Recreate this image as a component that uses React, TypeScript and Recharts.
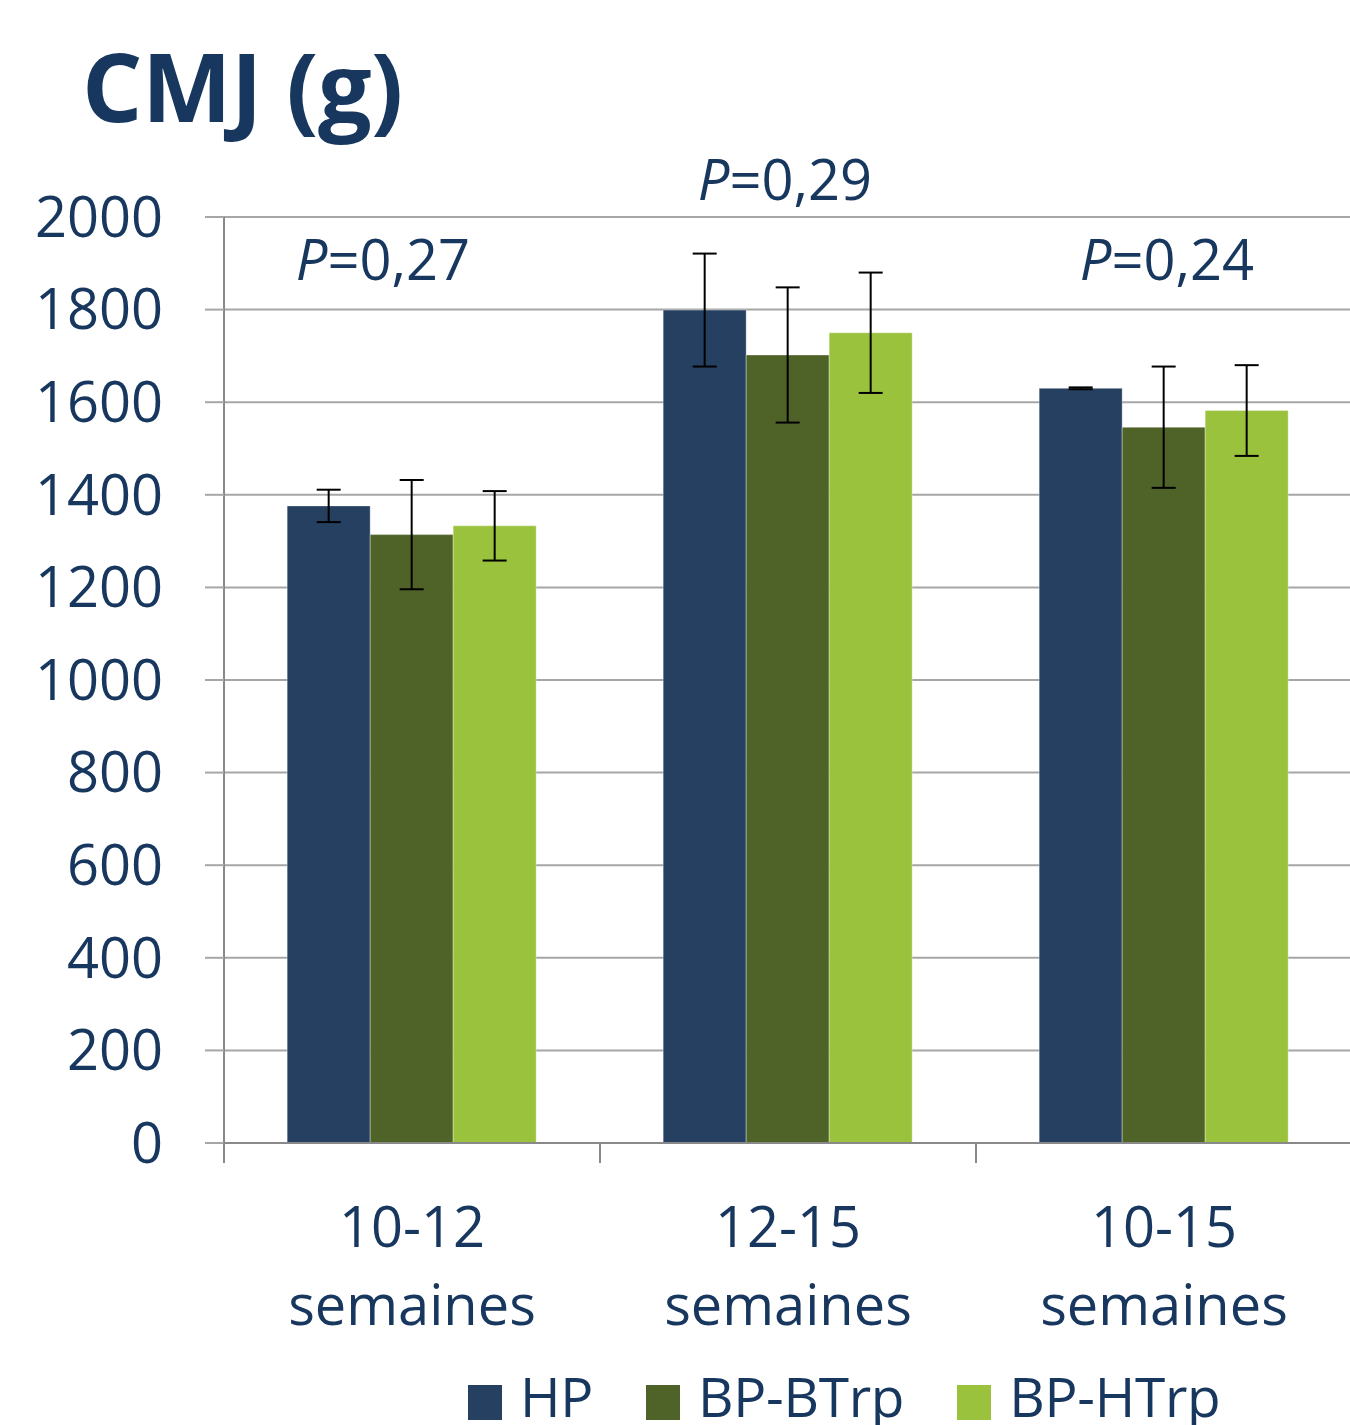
import React from 'react'
import { Bar, BarChart, CartesianGrid, ErrorBar, ReferenceDot, XAxis, YAxis } from 'recharts'

// catégories et valeurs (CMJ en g)
const categories = ['10-12 semaines', '12-15 semaines', '10-15 semaines']
const hp = [1376, 1799, 1630]
const hpErr = [35, 122, 2]
const bTrp = [1314, 1702, 1546]
const bTrpErr = [118, 146, 131]
const hTrp = [1333, 1750, 1582]
const hTrpErr = [75, 130, 98]

// valeurs P au-dessus de chaque groupe
const pValues = ['0,27', '0,29', '0,24']
const pLabelY = [1864, 2037, 1864]
const pLabelDx = [-29, -3, 3]

const yTicks = [0, 200, 400, 600, 800, 1000, 1200, 1400, 1600, 1800, 2000]

const SERIES = [
  { key: 'hp', err: 'hpErr', label: 'HP', color: '#264061' },
  { key: 'bTrp', err: 'bTrpErr', label: 'BP-BTrp', color: '#4f6228' },
  { key: 'hTrp', err: 'hTrpErr', label: 'BP-HTrp', color: '#9ac23c' },
]

const TEXT = '#17375e'
const FONT = '"Open Sans", sans-serif'

const data = categories.map((c, i) => ({
  name: c,
  hp: hp[i],
  hpErr: hpErr[i],
  bTrp: bTrp[i],
  bTrpErr: bTrpErr[i],
  hTrp: hTrp[i],
  hTrpErr: hTrpErr[i],
}))

// tick de l'axe X : libellé sur deux lignes + trait à la limite gauche de la catégorie
function CategoryTick(props: any) {
  const { x, y, payload } = props
  const half = payload?.offset ?? 188
  const [top, bottom] = String(payload.value).split(' ')
  return (
    <g>
      <line x1={x - half} x2={x - half} y1={y} y2={y + 20} stroke="#898989" strokeWidth={2} />
      <text x={x} y={y + 104} textAnchor="middle" fill={TEXT} fontSize={56} fontFamily={FONT}>
        {top}
      </text>
      <text x={x} y={y + 182} textAnchor="middle" fill={TEXT} fontSize={56} fontFamily={FONT}>
        {bottom}
      </text>
    </g>
  )
}

function PLabel({ viewBox, value, dx = 0 }: any) {
  if (!viewBox) return null
  return (
    <text
      x={viewBox.x + (viewBox.width ?? 0) / 2 + dx}
      y={viewBox.y}
      textAnchor="middle"
      fill={TEXT}
      fontSize={56}
      fontFamily={FONT}
    >
      <tspan fontStyle="italic">P</tspan>
      <tspan>={value}</tspan>
    </text>
  )
}

export default function App() {
  return (
    <div style={{ position: 'absolute', left: 0, top: 0, width: 1350, height: 1425, background: '#fff', fontFamily: FONT, overflow: 'hidden' }}>
      <div
        style={{
          position: 'absolute',
          left: 82,
          top: 37,
          fontSize: 95,
          lineHeight: '96px',
          fontWeight: 700,
          color: TEXT,
          letterSpacing: -0.5,
          whiteSpace: 'nowrap',
        }}
      >
        CMJ (g)
      </div>

      <div style={{ position: 'absolute', left: 0, top: 0 }}>
        <BarChart
          width={1352}
          height={1425}
          data={data}
          margin={{ top: 217, right: 0, left: 0, bottom: 0 }}
          barCategoryGap="16.8%"
          barGap={0}
        >
          <CartesianGrid horizontal vertical={false} stroke="#a6a6a6" strokeWidth={2} />
          <XAxis
            dataKey="name"
            height={282}
            tick={<CategoryTick />}
            tickLine={false}
            tickSize={0}
            tickMargin={0}
            axisLine={{ stroke: '#898989', strokeWidth: 2 }}
            interval={0}
          />
          <YAxis
            width={224}
            domain={[0, 2000]}
            ticks={yTicks}
            interval={0}
            tickSize={19}
            tickMargin={42}
            tickLine={{ stroke: '#a6a6a6', strokeWidth: 2 }}
            axisLine={{ stroke: '#898989', strokeWidth: 2 }}
            tick={{ fill: TEXT, fontSize: 56, fontFamily: FONT }}
          />
          {SERIES.map((s) => (
            <Bar
              key={s.key}
              dataKey={s.key}
              name={s.label}
              fill={s.color}
              stroke="#ffffff"
              strokeOpacity={0.35}
              strokeWidth={1}
              isAnimationActive={false}
            >
              <ErrorBar dataKey={s.err} width={12} strokeWidth={2} stroke="#000000" />
            </Bar>
          ))}
          {categories.map((c, i) => (
            <ReferenceDot
              key={c}
              x={c}
              y={pLabelY[i]}
              r={0}
              ifOverflow="visible"
              fill="none"
              stroke="none"
              label={<PLabel value={pValues[i]} dx={pLabelDx[i]} />}
            />
          ))}
        </BarChart>
      </div>

      <div style={{ position: 'absolute', left: 468, top: 1368, display: 'flex', alignItems: 'flex-start', whiteSpace: 'nowrap' }}>
        {SERIES.map((s) => (
          <div key={s.key} style={{ display: 'flex', alignItems: 'flex-start', marginRight: 53 }}>
            <span style={{ display: 'inline-block', width: 34, height: 35, marginTop: 17, marginRight: 18, background: s.color }} />
            <span style={{ fontSize: 55, lineHeight: '56px', color: TEXT, letterSpacing: -0.3 }}>{s.label}</span>
          </div>
        ))}
      </div>
    </div>
  )
}
